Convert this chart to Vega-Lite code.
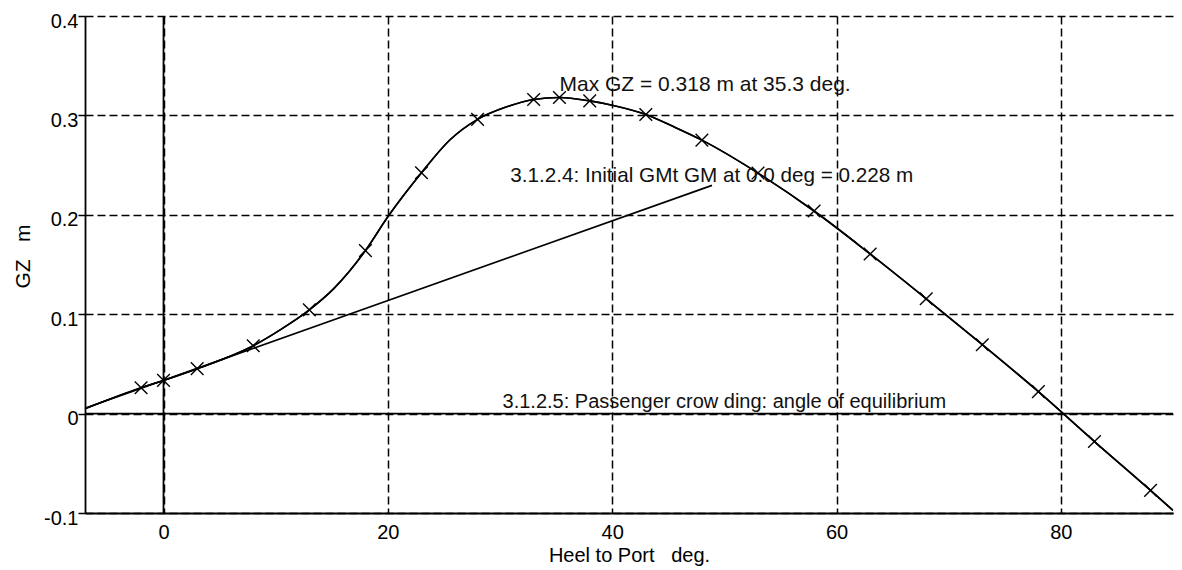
{
  "$schema": "https://vega.github.io/schema/vega-lite/v6.json",
  "width": 1088,
  "height": 497,
  "autosize": {"type": "none"},
  "padding": {"left": 85, "top": 16, "right": 9, "bottom": 57},
  "background": "white",
  "config": {
    "view": {"stroke": null},
    "font": "Liberation Sans",
    "text": {"font": "Liberation Sans"}
  },
  "datasets": {
    "curve": [
      {"heel": -7, "gz": 0.005},
      {"heel": -2, "gz": 0.026},
      {"heel": 0, "gz": 0.0334},
      {"heel": 3, "gz": 0.0452},
      {"heel": 8, "gz": 0.0683},
      {"heel": 10.4, "gz": 0.0843},
      {"heel": 13, "gz": 0.1044},
      {"heel": 15.2, "gz": 0.126},
      {"heel": 18, "gz": 0.164},
      {"heel": 20, "gz": 0.198},
      {"heel": 23, "gz": 0.2423},
      {"heel": 25.5, "gz": 0.275},
      {"heel": 28, "gz": 0.296},
      {"heel": 30.6, "gz": 0.3086},
      {"heel": 33, "gz": 0.316},
      {"heel": 35.3, "gz": 0.318},
      {"heel": 38, "gz": 0.3146},
      {"heel": 40.1, "gz": 0.31},
      {"heel": 43, "gz": 0.3009},
      {"heel": 45.5, "gz": 0.2885},
      {"heel": 48, "gz": 0.2751},
      {"heel": 53, "gz": 0.242},
      {"heel": 58, "gz": 0.2038},
      {"heel": 63, "gz": 0.1606},
      {"heel": 68, "gz": 0.1155},
      {"heel": 73, "gz": 0.0693},
      {"heel": 78, "gz": 0.0221},
      {"heel": 83, "gz": -0.0281},
      {"heel": 88, "gz": -0.0773},
      {"heel": 90, "gz": -0.0974}
    ],
    "crosses": [
      {"heel": -2, "gz": 0.026},
      {"heel": 0, "gz": 0.0334},
      {"heel": 3, "gz": 0.0452},
      {"heel": 8, "gz": 0.0683},
      {"heel": 13, "gz": 0.1044},
      {"heel": 18, "gz": 0.164},
      {"heel": 23, "gz": 0.2423},
      {"heel": 28, "gz": 0.296},
      {"heel": 33, "gz": 0.316},
      {"heel": 35.3, "gz": 0.318},
      {"heel": 38, "gz": 0.3146},
      {"heel": 43, "gz": 0.3009},
      {"heel": 48, "gz": 0.2751},
      {"heel": 53, "gz": 0.242},
      {"heel": 58, "gz": 0.2038},
      {"heel": 63, "gz": 0.1606},
      {"heel": 68, "gz": 0.1155},
      {"heel": 73, "gz": 0.0693},
      {"heel": 78, "gz": 0.0221},
      {"heel": 83, "gz": -0.0281},
      {"heel": 88, "gz": -0.0773}
    ],
    "gm": [
      {"heel": -7, "gz": 0.0055},
      {"heel": 48.9, "gz": 0.2296}
    ]
  },
  "layer": [
    {
      "data": {"name": "curve"},
      "mark": {"type": "line", "color": "black", "strokeWidth": 1.6, "interpolate": "monotone", "clip": true},
      "encoding": {
        "x": {
          "field": "heel", "type": "quantitative",
          "scale": {"domain": [-7, 90], "nice": false, "zero": false},
          "axis": {
            "values": [0, 20, 40, 60, 80],
            "title": "Heel to Port\u00a0\u00a0\u00a0deg.",
            "grid": true, "gridDash": [8, 4], "gridColor": "black", "gridWidth": 1.5, "gridOpacity": 1,
            "domainColor": "black", "domainWidth": 1.8,
            "ticks": false, "tickSize": 0,
            "labelPadding": 9, "labelFontSize": 20, "labelColor": "black", "labelFont": "Liberation Sans",
            "labelFlush": false, "labelOverlap": false,
            "titleFontSize": 20, "titleFontWeight": "normal", "titleColor": "black", "titleFont": "Liberation Sans",
            "titleBaseline": "alphabetic", "titleY": 48
          }
        },
        "y": {
          "field": "gz", "type": "quantitative",
          "scale": {"domain": [-0.1, 0.4], "nice": false, "zero": false},
          "axis": {
            "values": [-0.1, 0, 0.1, 0.2, 0.3, 0.4],
            "labelExpr": "datum.value < -0.001 ? '-' + format(-datum.value, '.1f') : (abs(datum.value) < 0.001 ? '0' : format(datum.value, '.1f'))",
            "title": "GZ\u00a0\u00a0\u00a0m",
            "grid": true, "gridDash": [8, 4], "gridColor": "black", "gridWidth": 1.5, "gridOpacity": 1,
            "domainColor": "black", "domainWidth": 1.8,
            "ticks": true, "tickSize": 7, "tickColor": "black", "tickWidth": 1.5,
            "labelPadding": 0, "labelFontSize": 20, "labelColor": "black", "labelFont": "Liberation Sans",
            "labelBaseline": "middle", "labelOffset": 5, "labelFlush": false, "labelOverlap": false,
            "titleFontSize": 21, "titleFontWeight": "normal", "titleColor": "black", "titleFont": "Liberation Sans",
            "titleBaseline": "alphabetic", "titleX": -56, "titleY": 240
          }
        }
      }
    },
    {
      "data": {"values": [{"heel": 0}]},
      "mark": {"type": "rule", "color": "black", "strokeWidth": 1.8},
      "encoding": {"x": {"field": "heel", "type": "quantitative"}}
    },
    {
      "data": {"values": [{"gz": 0}]},
      "mark": {"type": "rule", "color": "black", "strokeWidth": 1.8},
      "encoding": {"y": {"field": "gz", "type": "quantitative"}}
    },
    {
      "data": {"name": "gm"},
      "mark": {"type": "line", "color": "black", "strokeWidth": 1.6},
      "encoding": {
        "x": {"field": "heel", "type": "quantitative"},
        "y": {"field": "gz", "type": "quantitative"}
      }
    },
    {
      "data": {"name": "curve"},
      "mark": {"type": "line", "color": "black", "strokeWidth": 1.6, "interpolate": "monotone"},
      "encoding": {
        "x": {"field": "heel", "type": "quantitative"},
        "y": {"field": "gz", "type": "quantitative"}
      }
    },
    {
      "data": {"name": "crosses"},
      "mark": {"type": "point", "shape": "M-1,-1L1,1M-1,1L1,-1", "size": 160, "stroke": "black", "strokeWidth": 1.4, "filled": false, "opacity": 1},
      "encoding": {
        "x": {"field": "heel", "type": "quantitative"},
        "y": {"field": "gz", "type": "quantitative"}
      }
    },
    {
      "data": {"values": [{"heel": 35.3, "gz": 0.3245, "label": "Max GZ = 0.318 m at 35.3 deg."}]},
      "mark": {"type": "text", "align": "left", "baseline": "alphabetic", "fontSize": 21, "color": "#111"},
      "encoding": {
        "x": {"field": "heel", "type": "quantitative"},
        "y": {"field": "gz", "type": "quantitative"},
        "text": {"field": "label"}
      }
    },
    {
      "data": {"values": [{"heel": 48.88, "gz": 0.2327, "label": "3.1.2.4: Initial GMt GM at 0.0 deg = 0.228 m"}]},
      "mark": {"type": "text", "align": "center", "baseline": "alphabetic", "fontSize": 20.7, "color": "#111"},
      "encoding": {
        "x": {"field": "heel", "type": "quantitative"},
        "y": {"field": "gz", "type": "quantitative"},
        "text": {"field": "label"}
      }
    },
    {
      "data": {"values": [{"heel": 50.0, "gz": 0.0053, "label": "3.1.2.5: Passenger crow ding: angle of equilibrium"}]},
      "mark": {"type": "text", "align": "center", "baseline": "alphabetic", "fontSize": 20, "color": "#111"},
      "encoding": {
        "x": {"field": "heel", "type": "quantitative"},
        "y": {"field": "gz", "type": "quantitative"},
        "text": {"field": "label"}
      }
    }
  ]
}
